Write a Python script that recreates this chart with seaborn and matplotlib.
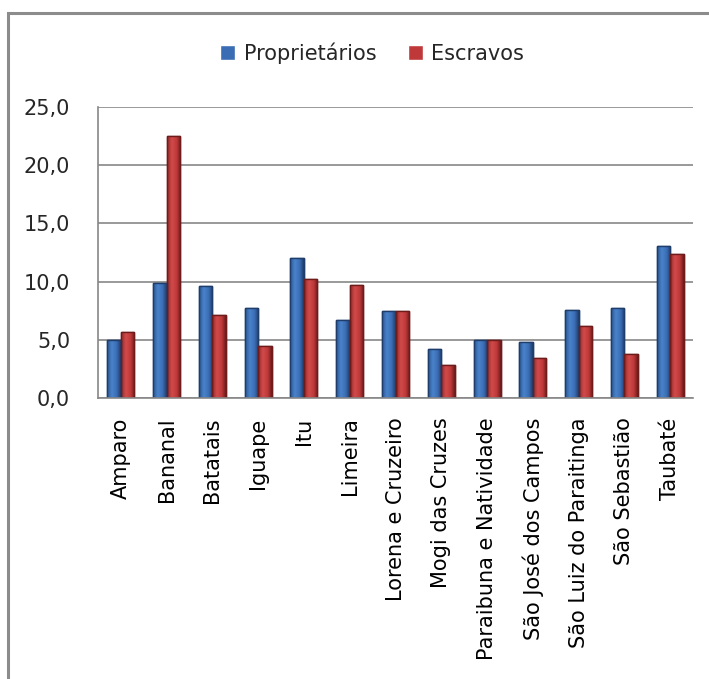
import matplotlib
matplotlib.use("Agg")
import matplotlib.pyplot as plt
from matplotlib.patches import Rectangle
from matplotlib.ticker import FuncFormatter, FixedLocator
from matplotlib.colors import LinearSegmentedColormap
import numpy as np
import pandas as pd
import seaborn as sns

# values
municipios = ["Amparo", "Bananal", "Batatais", "Iguape", "Itu", "Limeira",
              "Lorena e Cruzeiro", "Mogi das Cruzes", "Paraibuna e Natividade",
              "São José dos Campos", "São Luiz do Paraitinga", "São Sebastião",
              "Taubaté"]
proprietarios = [5.0, 9.9, 9.6, 7.7, 12.0, 6.7, 7.5, 4.2, 5.0, 4.8, 7.6, 7.7, 13.1]
escravos = [5.7, 22.5, 7.1, 4.5, 10.2, 9.7, 7.5, 2.8, 5.0, 3.4, 6.2, 3.8, 12.4]
series = ["Proprietários", "Escravos"]
cores = ["#3A6DB3", "#C0393A"]
bordas = ["#1E3D6B", "#6E1B1B"]
# shading across each bar (left edge -> highlight -> right edge)
degrades = [["#2B5591", "#4A83CB", "#3A6DB3", "#1F3C69"],
            ["#932828", "#D24B4B", "#C0393A", "#6C1B1B"]]

df = pd.DataFrame({
    "Municipio": municipios * 2,
    "Valor": proprietarios + escravos,
    "Serie": [series[0]] * len(municipios) + [series[1]] * len(municipios),
})

sns.set_style("white")
plt.rcParams["font.family"] = ["DejaVu Sans"]

fig = plt.figure(figsize=(7.09, 6.79), dpi=100)
ax = fig.add_axes([98 / 709, 1 - 398 / 679, (693 - 98) / 709, (398 - 107) / 679])

sns.barplot(data=df, x="Municipio", y="Valor", hue="Serie", hue_order=series,
            palette=cores, width=0.59, ax=ax, saturation=1, legend=True)

# cylinder-like shading and darker outline per series
grad = np.linspace(0, 1, 64).reshape(1, -1)
for container, borda, stops in zip(ax.containers, bordas, degrades):
    cmap = LinearSegmentedColormap.from_list(
        "bar", list(zip([0.0, 0.35, 0.7, 1.0], stops)))
    for bar in container:
        bar.set_edgecolor(borda)
        bar.set_linewidth(1.0)
        bar.set_zorder(3)
        x0, w, h = bar.get_x(), bar.get_width(), bar.get_height()
        im = ax.imshow(grad, cmap=cmap, extent=[x0, x0 + w, 0, h],
                       aspect="auto", zorder=3.2, interpolation="bilinear")
        im.set_clip_path(bar)
        edge = Rectangle((x0, 0), w, h, fill=False, edgecolor=borda,
                         linewidth=1.0, zorder=3.4)
        ax.add_patch(edge)

ax.set_aspect("auto")
ax.set_ylim(0, 25)
ax.set_xlim(-0.5, len(municipios) - 0.5)
ax.set_yticks([0, 5, 10, 15, 20, 25])
ax.yaxis.set_major_formatter(FuncFormatter(lambda v, p: f"{v:.1f}".replace(".", ",")))
ax.yaxis.grid(True, color="#878787", linewidth=1.2, zorder=0)
ax.set_axisbelow(True)
ax.set_xlabel("")
ax.set_ylabel("")

# category ticks sit between groups, labels at centres
ax.set_xticks(range(len(municipios)))
ax.set_xticklabels(municipios)
ax.xaxis.set_minor_locator(FixedLocator([i - 0.5 for i in range(len(municipios) + 1)]))
ax.tick_params(axis="x", which="major", length=0, pad=14, labelsize=15,
               labelrotation=90, colors="black")
ax.tick_params(axis="x", which="minor", length=6, width=1.2, color="#878787")
ax.tick_params(axis="y", length=8, width=1.2, color="#878787", pad=12,
               labelsize=15)
for lbl in ax.get_xticklabels():
    lbl.set_verticalalignment("top")

for side in ["top", "right"]:
    ax.spines[side].set_visible(False)
for side in ["left", "bottom"]:
    ax.spines[side].set_color("#878787")
    ax.spines[side].set_linewidth(1.2)
    ax.spines[side].set_zorder(4)

handles, labels = ax.get_legend_handles_labels()
ax.legend_.remove()
fig.legend(handles, labels, loc="center", bbox_to_anchor=(372 / 709, 1 - 53 / 679),
           ncol=2, frameon=False, fontsize=15, handlelength=0.75, handleheight=0.75,
           handletextpad=0.4, columnspacing=1.5)

# chart area frame (cut off at right and bottom in the reference)
fig.patches.append(Rectangle((8 / 709, -0.2), 1.5, 1.2 - 13 / 679,
                             transform=fig.transFigure, fill=False,
                             edgecolor="#8C8C8C", linewidth=2.2))

fig.savefig("out.png", dpi=100)
